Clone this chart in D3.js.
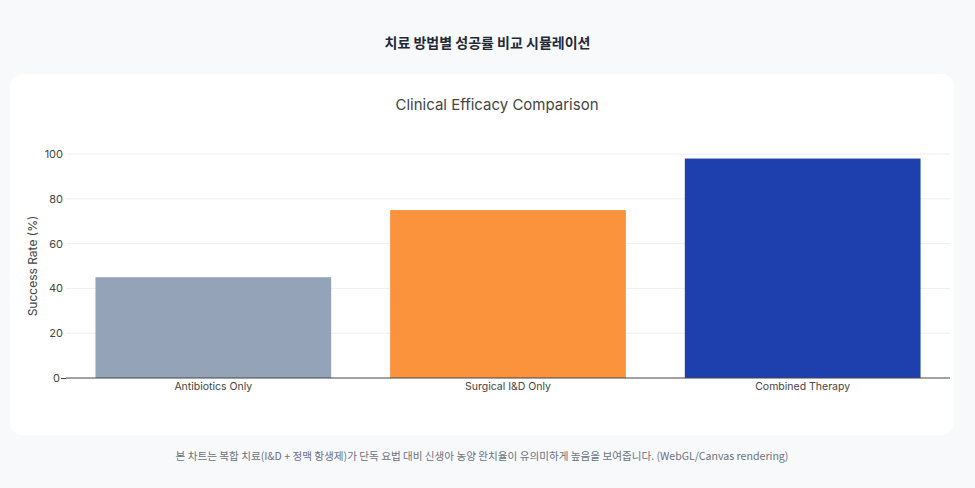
<!DOCTYPE html>
<html><head><meta charset="utf-8">
<script src="https://cdn.jsdelivr.net/npm/d3@7"></script>
<style>
html,body{margin:0;padding:0;background:#f8f9fb;font-family:Inter,"Noto Sans CJK KR",sans-serif;}
svg{display:block;}
</style></head><body>
<svg id="c" width="975" height="488"></svg>
<script>
const categories = ["Antibiotics Only", "Surgical I&D Only", "Combined Therapy"];
const successRates = [45, 75, 98];
const barColors = ["#94a3b8", "#fb923c", "#1e40af"];
const yTicks = [0, 20, 40, 60, 80, 100];

const svg = d3.select("#c");
svg.append("rect").attr("x",0).attr("y",0).attr("width",975).attr("height",488).attr("fill","#f8f9fb");
svg.append("text").attr("x",487.5).attr("y",48).attr("text-anchor","middle")
  .attr("font-family","'Noto Sans CJK KR',sans-serif").attr("font-weight",700).attr("font-size",14).attr("fill","#1f2937")
  .text("치료 방법별 성공률 비교 시뮬레이션");
svg.append("rect").attr("x",10).attr("y",74).attr("width",944).attr("height",361).attr("rx",12)
  .attr("fill","#ffffff");

const x = d3.scaleBand().domain(categories).range([66,950]).paddingInner(0.2).paddingOuter(0.1);
const y = d3.scaleLinear().domain([0,104.5]).range([378,144]);

svg.append("text").attr("x",497).attr("y",110).attr("text-anchor","middle")
  .attr("font-family","Inter,sans-serif").attr("font-size",15).attr("fill","#444").text("Clinical Efficacy Comparison");

const g = svg.append("g");
g.selectAll("line.grid").data(yTicks.filter(d=>d>0)).join("line")
  .attr("x1",66).attr("x2",950).attr("y1",d=>y(d)).attr("y2",d=>y(d))
  .attr("stroke","#eeeeee").attr("stroke-width",1);

g.selectAll("rect.bar").data(successRates).join("rect")
  .attr("x",(d,i)=>x(categories[i])).attr("width",x.bandwidth())
  .attr("y",d=>y(d)).attr("height",d=>y(0)-y(d)).attr("fill",(d,i)=>barColors[i]);

const yAxis = d3.axisLeft(y).tickValues(yTicks).tickSize(0).tickPadding(3);
const ya = svg.append("g").attr("transform","translate(66,0)").call(yAxis);
ya.select(".domain").remove();
ya.selectAll("text").attr("font-family","Inter,sans-serif").attr("font-size",11).attr("fill","#444");
ya.selectAll(".tick").filter(d=>d===0).select("text").attr("x",-6);
ya.selectAll(".tick").filter(d=>d===0).append("line").attr("x1",-5).attr("x2",0).attr("stroke","#444");

svg.append("line").attr("x1",66).attr("x2",950).attr("y1",y(0)).attr("y2",y(0)).attr("stroke","#444").attr("stroke-width",1);

const xAxis = d3.axisBottom(x).tickSize(0).tickPadding(5);
const xa = svg.append("g").attr("transform",`translate(0,${y(0)})`).call(xAxis);
xa.select(".domain").remove();
xa.selectAll("text").attr("font-family","Inter,sans-serif").attr("font-size",10.5).attr("fill","#444");

svg.append("text").attr("transform",`translate(37,${y(50)}) rotate(-90)`).attr("text-anchor","middle")
  .attr("font-family","Inter,sans-serif").attr("font-size",12).attr("fill","#444").text("Success Rate (%)");

svg.append("text").attr("x",482).attr("y",460).attr("text-anchor","middle")
  .attr("font-family","'Noto Sans CJK KR',sans-serif").attr("font-size",10.6).attr("fill","#6b7280")
  .text("본 차트는 복합 치료(I&D + 정맥 항생제)가 단독 요법 대비 신생아 농양 완치율이 유의미하게 높음을 보여줍니다. (WebGL/Canvas rendering)");
</script>
</body></html>
